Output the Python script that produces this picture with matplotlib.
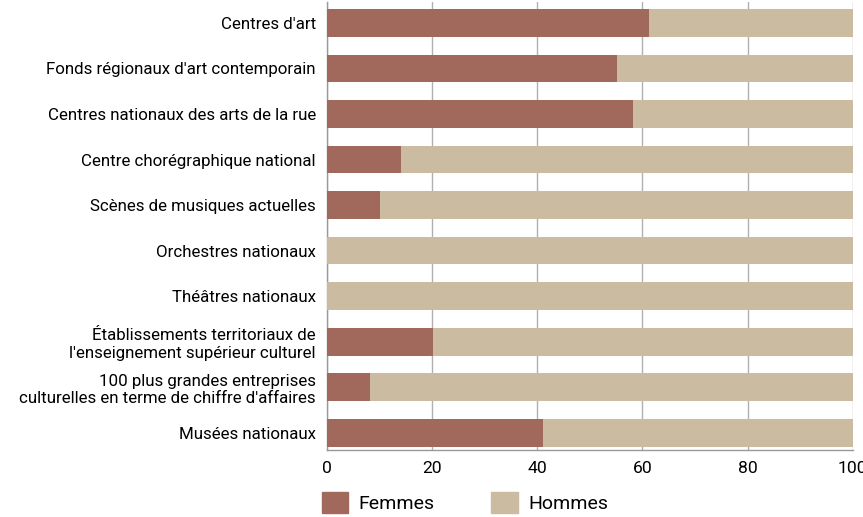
import numpy as np
import matplotlib.pyplot as plt
from matplotlib.patches import Patch

categories = [
    "Centres d'art",
    "Fonds régionaux d'art contemporain",
    "Centres nationaux des arts de la rue",
    "Centre chorégraphique national",
    "Scènes de musiques actuelles",
    "Orchestres nationaux",
    "Théâtres nationaux",
    "Établissements territoriaux de\nl'enseignement supérieur culturel",
    "100 plus grandes entreprises\nculturelles en terme de chiffre d'affaires",
    "Musées nationaux",
]
femmes = [61.2, 55.1, 58.2, 14.1, 10.1, 0, 0, 20.2, 8.2, 41.1]
hommes = [100 - f for f in femmes]
xticks = [0, 20, 40, 60, 80, 100]

c_f = '#A0695B'
c_h = '#CBBBA0'

plt.rcParams['font.family'] = ['Roboto', 'DejaVu Sans']

fig = plt.figure(figsize=(8.63, 5.17), dpi=100)
ax = fig.add_axes([0.379, 0.13, 0.609, 0.867])

y = np.arange(len(categories))
ax.barh(y, femmes, height=0.61, color=c_f, zorder=3)
ax.barh(y, hommes, left=femmes, height=0.61, color=c_h, zorder=3)

ax.set_ylim(9.375, -0.47)
ax.set_xlim(0, 100)
ax.set_yticks(y)
ax.set_yticklabels(categories, fontsize=12.2)
ax.set_xticks(xticks)
ax.set_xticklabels([str(t) for t in xticks], fontsize=12.6)
ax.tick_params(axis='y', length=0, pad=8)
ax.tick_params(axis='x', length=0, pad=8)

ax.grid(axis='x', color='#b0b0b0', linewidth=1, zorder=0)
for s in ['top', 'right']:
    ax.spines[s].set_visible(False)
for s in ['left', 'bottom']:
    ax.spines[s].set_color('#999999')
    ax.spines[s].set_linewidth(1)

handles = [Patch(color=c_f, label='Femmes'), Patch(color=c_h, label='Hommes')]
fig.legend(handles=handles, loc='upper left', bbox_to_anchor=(0.373, 0.048),
           ncol=2, frameon=False, fontsize=14, handlelength=1.35, handleheight=1.3,
           columnspacing=2.9, handletextpad=0.55, borderpad=0, borderaxespad=0)

fig.savefig('out.png', dpi=100)
